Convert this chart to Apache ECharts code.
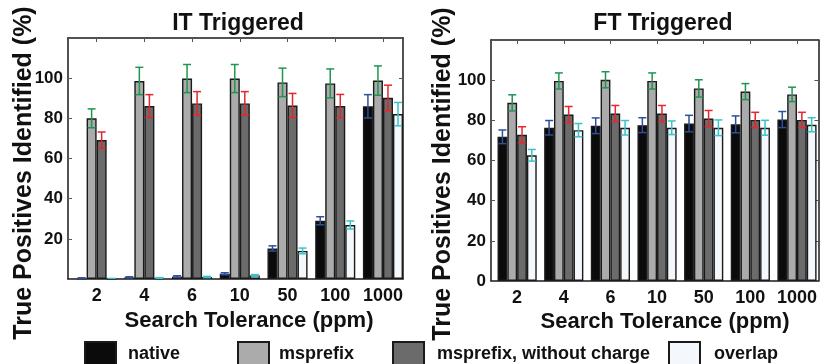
<!DOCTYPE html>
<html>
<head>
<meta charset="utf-8">
<script src="https://cdn.jsdelivr.net/npm/echarts@6/dist/echarts.min.js"></script>
<style>html,body{margin:0;padding:0;background:#fff}#c{width:820px;height:364px}</style>
</head>
<body>
<div id="c"></div>
<script>
const categories = ['2', '4', '6', '10', '50', '100', '1000'];
const seriesNames = ['native', 'msprefix', 'msprefix, without charge', 'overlap'];
const yTicks = [0, 20, 40, 60, 80, 100, 120];

// IT Triggered
const itNative = [0.4, 0.8, 1.2, 2.6, 15.2, 29.0, 86.0];
const itNativeErr = [0.2, 0.3, 0.4, 0.5, 1.3, 2.0, 5.8];
const itMsprefix = [80.0, 98.6, 99.8, 99.8, 97.9, 97.4, 98.8];
const itMsprefixErr = [4.7, 6.8, 7.0, 7.0, 7.1, 7.2, 7.3];
const itNoCharge = [69.2, 86.1, 87.4, 87.4, 86.4, 86.1, 90.2];
const itNoChargeErr = [4.0, 5.7, 5.9, 5.9, 6.0, 5.8, 6.3];
const itOverlap = [0.2, 0.5, 1.0, 1.8, 14.0, 26.9, 82.1];
const itOverlapErr = [0.1, 0.2, 0.3, 0.4, 1.4, 2.0, 5.8];

// FT Triggered
const ftNative = [71.8, 76.3, 77.3, 77.6, 78.4, 78.0, 80.4];
const ftNativeErr = [3.4, 3.6, 3.9, 3.7, 4.1, 4.2, 4.0];
const ftMsprefix = [88.7, 99.6, 100.2, 99.6, 95.9, 94.3, 92.9];
const ftMsprefixErr = [4.0, 4.0, 4.0, 4.0, 4.3, 4.0, 3.6];
const ftNoCharge = [72.8, 82.9, 83.4, 83.4, 80.9, 80.2, 80.2];
const ftNoChargeErr = [4.0, 4.0, 4.0, 4.0, 4.0, 3.8, 3.8];
const ftOverlap = [62.6, 75.1, 76.3, 76.3, 76.3, 76.3, 77.8];
const ftOverlapErr = [2.9, 3.3, 3.6, 3.4, 3.9, 3.7, 3.5];

const FONT = "'Liberation Sans', Arial, Helvetica, sans-serif";
const barColors = ['#0b0b0b', '#ababab', '#6b6b6b', '#f4f7fb'];
const errColors = ['#2e4f9e', '#1f9552', '#e5262b', '#38c4c8'];
const BAR_FRAC = 0.21;
const catPos = categories.map((c, i) => i + 1);

const panels = [
  { vals: [itNative, itMsprefix, itNoCharge, itOverlap], errs: [itNativeErr, itMsprefixErr, itNoChargeErr, itOverlapErr],
    grid: { left: 68, top: 38, width: 335, height: 241 }, xmin: 0.4, xmax: 7.42, showZero: false },
  { vals: [ftNative, ftMsprefix, ftNoCharge, ftOverlap], errs: [ftNativeErr, ftMsprefixErr, ftNoChargeErr, ftOverlapErr],
    grid: { left: 491, top: 40, width: 336, height: 241 }, xmin: 0.44, xmax: 7.46, showZero: true }
];

const axisLineStyle = { color: '#1a1a1a', width: 1.5 };
const tickStyle = { color: '#555', width: 1 };

const grids = [], xAxes = [], yAxes = [], series = [];
panels.forEach((p, pi) => {
  grids.push(Object.assign({ containLabel: false }, p.grid));
  // bottom x axis
  xAxes.push({
    type: 'value', gridIndex: pi, min: p.xmin, max: p.xmax, position: 'bottom',
    axisLine: { show: true, onZero: false, lineStyle: axisLineStyle },
    axisTick: { show: false }, splitLine: { show: false },
    axisLabel: { customValues: catPos, formatter: v => categories[Math.round(v) - 1] || '',
      fontFamily: FONT, fontWeight: 'bold', fontSize: 18, color: '#111', margin: 8 }
  });
  // top x axis (frame + ticks)
  xAxes.push({
    type: 'value', gridIndex: pi, min: p.xmin, max: p.xmax, position: 'top',
    axisLine: { show: true, onZero: false, lineStyle: axisLineStyle },
    axisTick: { show: true, inside: true, length: 4, customValues: catPos, lineStyle: tickStyle },
    axisLabel: { show: false }, splitLine: { show: false }
  });
  yAxes.push({
    type: 'value', gridIndex: pi, min: 0, max: 120, interval: 20, position: 'left',
    axisLine: { show: true, lineStyle: axisLineStyle },
    axisTick: { show: true, inside: true, length: 4, lineStyle: tickStyle },
    splitLine: { show: false },
    axisLabel: { fontFamily: FONT, fontWeight: 'bold', fontSize: 17, color: '#111', margin: 5,
      formatter: v => (v === 120 || (v === 0 && !p.showZero)) ? '' : String(v) }
  });
  yAxes.push({
    type: 'value', gridIndex: pi, min: 0, max: 120, interval: 20, position: 'right',
    axisLine: { show: true, lineStyle: axisLineStyle },
    axisTick: { show: true, inside: true, length: 4, lineStyle: tickStyle },
    splitLine: { show: false }, axisLabel: { show: false }
  });
  p.vals.forEach((vals, k) => {
    series.push({
      name: seriesNames[k], type: 'bar', xAxisIndex: pi * 2, yAxisIndex: pi * 2,
      barWidth: (BAR_FRAC * 100) + '%', barGap: '0%', clip: true,
      itemStyle: { color: barColors[k], borderColor: '#1a1a1a', borderWidth: 1.4 },
      emphasis: { disabled: true },
      data: vals.map((v, i) => [catPos[i], v]), z: 2
    });
  });
  p.vals.forEach((vals, k) => {
    const errs = p.errs[k];
    series.push({
      name: seriesNames[k] + ' error', type: 'custom', xAxisIndex: pi * 2, yAxisIndex: pi * 2,
      clip: true, z: 5, silent: true,
      data: vals.map((v, i) => [catPos[i], v, errs[i]]),
      renderItem: function (params, api) {
        const x = api.value(0), v = api.value(1), e = api.value(2);
        const unit = api.size([1, 0])[0];
        const off = (k - 1.5) * unit * BAR_FRAC;
        const hi = api.coord([x, v + e]);
        const lo = api.coord([x, v - e]);
        const cx = hi[0] + off;
        const cap = 4;
        const st = { stroke: errColors[k], lineWidth: 1.5 };
        return { type: 'group', children: [
          { type: 'line', shape: { x1: cx, y1: hi[1], x2: cx, y2: lo[1] }, style: st },
          { type: 'line', shape: { x1: cx - cap, y1: hi[1], x2: cx + cap, y2: hi[1] }, style: st },
          { type: 'line', shape: { x1: cx - cap, y1: lo[1], x2: cx + cap, y2: lo[1] }, style: st }
        ] };
      }
    });
  });
});

const legendLefts = [84, 237, 392, 668];
const legendPads = [7, 5, 8, 9];
const legends = seriesNames.map((n, k) => ({
  data: [n], left: legendLefts[k], top: 341, orient: 'horizontal',
  itemWidth: 31, itemHeight: 24, padding: 0, selectedMode: false,
  textStyle: { fontFamily: FONT, fontWeight: 'bold', fontSize: 18, color: '#111', padding: [0, 0, 0, legendPads[k]] },
  icon: 'rect'
}));

function txt(text, x, y, size, rot) {
  return { type: 'text', x: x, y: y, rotation: rot || 0, silent: true,
    style: { text: text, font: 'bold ' + size + 'px ' + FONT, fill: '#111', align: 'center', verticalAlign: 'middle' } };
}

const option = {
  animation: false,
  backgroundColor: '#fff',
  grid: grids, xAxis: xAxes, yAxis: yAxes, series: series, legend: legends,
  graphic: [
    txt('IT Triggered', 238, 24, 23),
    txt('FT Triggered', 663, 24, 23),
    txt('Search Tolerance (ppm)', 249, 321, 22),
    txt('Search Tolerance (ppm)', 665, 322, 22),
    txt('True Positives Identified (%)', 24, 173, 25, Math.PI / 2),
    txt('True Positives Identified (%)', 443, 174, 25, Math.PI / 2)
  ]
};

const chart = echarts.init(document.getElementById('c'), null, { renderer: 'canvas' });
chart.setOption(option);
</script>
</body>
</html>
